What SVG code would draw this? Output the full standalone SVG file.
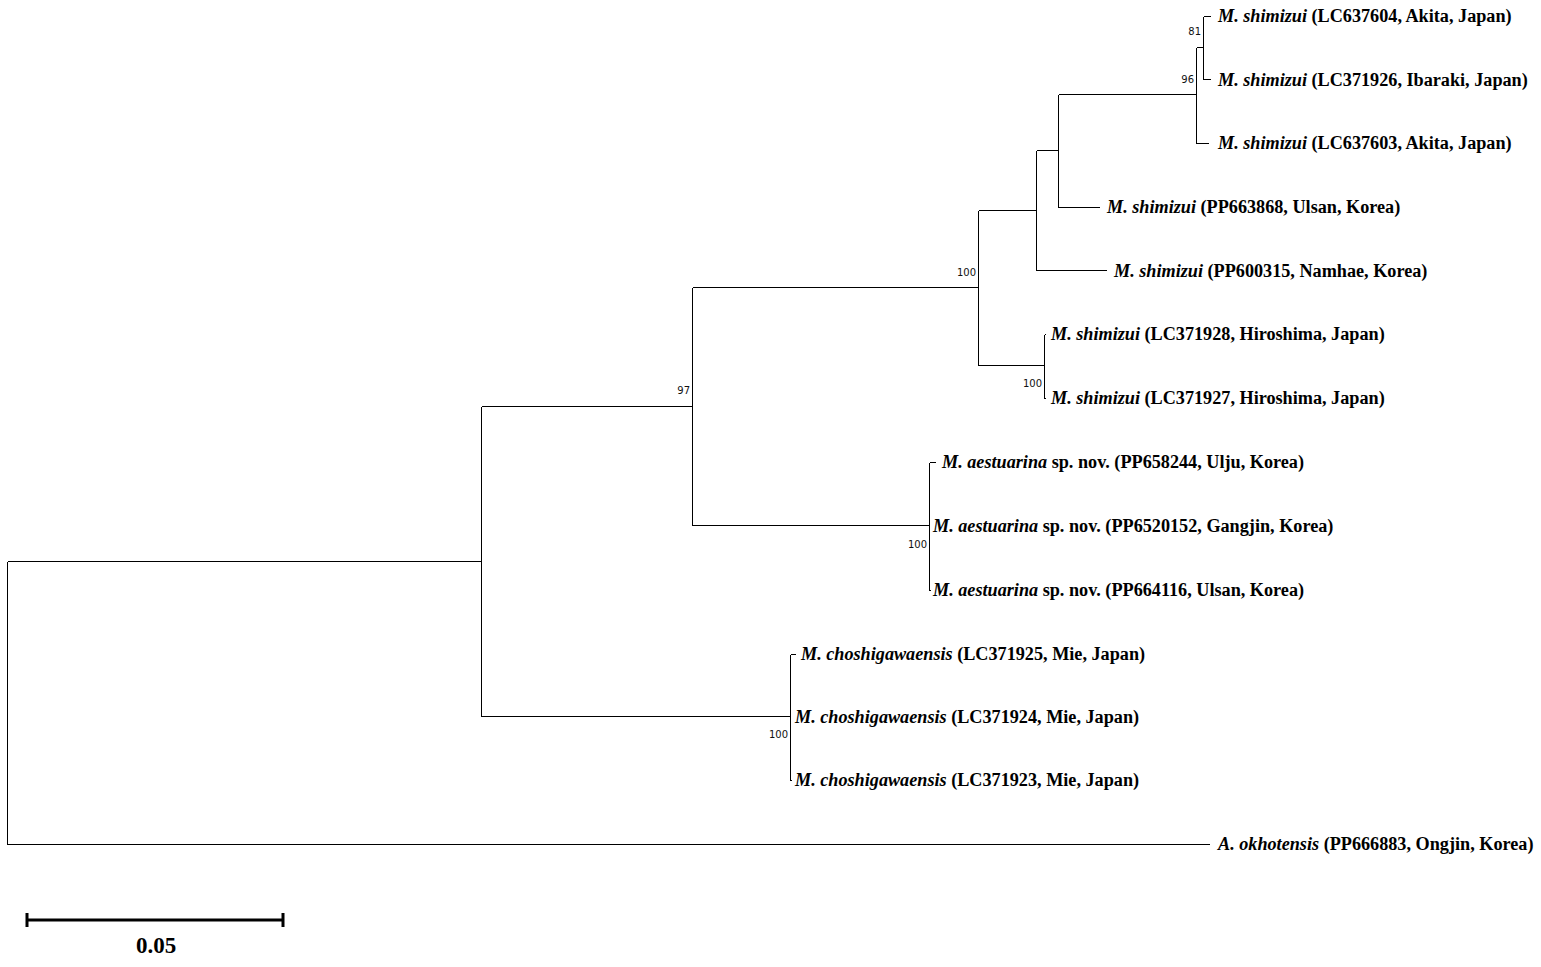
<svg xmlns="http://www.w3.org/2000/svg" width="1541" height="967" viewBox="0 0 1541 967">
<style>
.br{stroke:#000;stroke-width:1;fill:none;shape-rendering:crispEdges}
.lab{font-family:"Liberation Serif",serif;font-size:18.2px;font-weight:bold;fill:#000}
.sp{font-style:italic}
.bs{font-family:"DejaVu Sans","Liberation Sans",sans-serif;font-size:10px;fill:#111;text-anchor:end}
</style>
<rect width="1541" height="967" fill="#fff"/>
<g id="connectors">
<path class="br" d="M7.5,561.5V844.5M7.5,561.5H481.5M7.5,844.5H1210"/>
<path class="br" d="M481.5,406.5V716.5M481.5,406.5H692.5M481.5,716.5H790.5"/>
<path class="br" d="M692.5,287.5V525.5M692.5,287.5H978.5M692.5,525.5H929.5"/>
<path class="br" d="M978.5,210.5V365.5M978.5,210.5H1036.5M978.5,365.5H1044.5"/>
<path class="br" d="M1036.5,150.5V270.5M1036.5,150.5H1058.5M1036.5,270.5H1107"/>
<path class="br" d="M1058.5,94.5V207.5M1058.5,94.5H1196.5M1058.5,207.5H1100"/>
<path class="br" d="M1196.5,47.5V143.5M1196.5,47.5H1203.5M1196.5,143.5H1209"/>
<path class="br" d="M1203.5,16.5V79.5M1203.5,16.5H1211M1203.5,79.5H1211"/>
<path class="br" d="M1044.5,334.5V398.5M1044.5,334.5H1046M1044.5,398.5H1046"/>
<path class="br" d="M929.5,462.5V590.5M929.5,462.5H936M929.5,590.5H931"/>
<path class="br" d="M790.5,654.5V780.5M790.5,654.5H796M790.5,780.5H792"/>
</g>
<g id="bootstrap">
<text class="bs" x="1201" y="35">81</text>
<text class="bs" x="1194" y="83">96</text>
<text class="bs" x="976" y="276">100</text>
<text class="bs" x="1042" y="387">100</text>
<text class="bs" x="690" y="394">97</text>
<text class="bs" x="927" y="548">100</text>
<text class="bs" x="788" y="738">100</text>
</g>
<g id="n1"><text class="lab" x="1218" y="22"><tspan class="sp">M. shimizui</tspan> (LC637604, Akita, Japan)</text></g>
<g id="n2"><text class="lab" x="1218" y="86"><tspan class="sp">M. shimizui</tspan> (LC371926, Ibaraki, Japan)</text></g>
<g id="n3"><text class="lab" x="1218" y="149"><tspan class="sp">M. shimizui</tspan> (LC637603, Akita, Japan)</text></g>
<g id="n4"><text class="lab" x="1107" y="213"><tspan class="sp">M. shimizui</tspan> (PP663868, Ulsan, Korea)</text></g>
<g id="n5"><text class="lab" x="1114" y="277"><tspan class="sp">M. shimizui</tspan> (PP600315, Namhae, Korea)</text></g>
<g id="n6"><text class="lab" x="1051" y="340"><tspan class="sp">M. shimizui</tspan> (LC371928, Hiroshima, Japan)</text></g>
<g id="n7"><text class="lab" x="1051" y="404"><tspan class="sp">M. shimizui</tspan> (LC371927, Hiroshima, Japan)</text></g>
<g id="n8"><text class="lab" x="942" y="468"><tspan class="sp">M. aestuarina</tspan> sp. nov. (PP658244, Ulju, Korea)</text></g>
<g id="n9"><text class="lab" x="933" y="532"><tspan class="sp">M. aestuarina</tspan> sp. nov. (PP6520152, Gangjin, Korea)</text></g>
<g id="n10"><text class="lab" x="933" y="596"><tspan class="sp">M. aestuarina</tspan> sp. nov. (PP664116, Ulsan, Korea)</text></g>
<g id="n11"><text class="lab" x="801" y="660"><tspan class="sp">M. choshigawaensis</tspan> (LC371925, Mie, Japan)</text></g>
<g id="n12"><text class="lab" x="795" y="723"><tspan class="sp">M. choshigawaensis</tspan> (LC371924, Mie, Japan)</text></g>
<g id="n13"><text class="lab" x="795" y="786"><tspan class="sp">M. choshigawaensis</tspan> (LC371923, Mie, Japan)</text></g>
<g id="n14"><text class="lab" x="1218" y="850"><tspan class="sp">A. okhotensis</tspan> (PP666883, Ongjin, Korea)</text></g>
<g id="scalebar">
<path d="M27,920H283M27,913V927M283,913V927" stroke="#000" stroke-width="3" fill="none"/>
<text x="156" y="953" text-anchor="middle" font-family="Liberation Serif,serif" font-size="23" font-weight="bold">0.05</text>
</g>
</svg>
